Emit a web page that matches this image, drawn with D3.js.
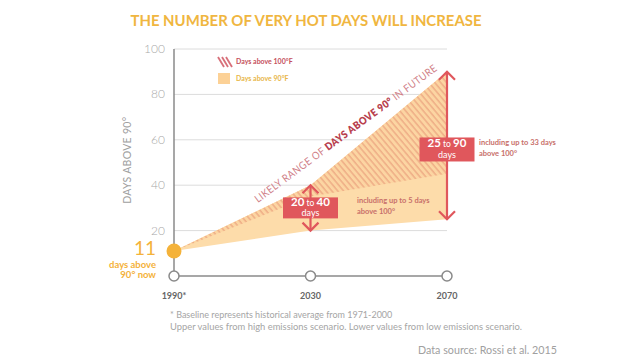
<!DOCTYPE html>
<html><head><meta charset="utf-8">
<script src="https://cdn.jsdelivr.net/npm/d3@7"></script>
<style>body{margin:0;background:#fff}svg{display:block}text{font-family:Lato,"Open Sans",sans-serif}</style>
</head><body><svg id="c" width="640" height="360"></svg>
<script>
const years = [1990, 2030, 2070];
const xLabels = ["1990*", "2030", "2070"];
const upper = [11, 40, 90];
const lower = [11, 20, 25];
const hatchLower = [11, 35, 45];
const yTicks = [20, 40, 60, 80, 100];
const rangeLabels = [null, ["20", "40"], ["25", "90"]];
const notes = [null, ["including up to 5 days", "above 100°"], ["including up to 33 days", "above 100°"]];

const svg = d3.select("#c");
const x = d3.scaleLinear().domain([1990, 2070]).range([174, 447]);
const y = d3.scaleLinear().domain([0, 100]).range([276, 49]);
const red = "#e0575c", orange = "#f4b23a";

const defs = svg.append("defs");
const pat = defs.append("pattern").attr("id", "hatch").attr("patternUnits", "userSpaceOnUse")
  .attr("width", 4.5).attr("height", 4.5).attr("patternTransform", "rotate(-40)");
pat.append("rect").attr("width", 4.5).attr("height", 4.5).attr("fill", "#fcd5a2");
pat.append("line").attr("x1", 1).attr("x2", 1).attr("y1", 0).attr("y2", 4.5)
  .attr("stroke", "#eeaa84").attr("stroke-width", 1.4);

// title
svg.append("text").attr("x", 306).attr("y", 26).attr("text-anchor", "middle")
  .attr("font-size", 16).attr("font-weight", 700).attr("fill", "#f0b640")
  .attr("textLength", 351).attr("lengthAdjust", "spacingAndGlyphs")
  .text("THE NUMBER OF VERY HOT DAYS WILL INCREASE");

// gridlines
svg.append("g").selectAll("line").data(yTicks).join("line")
  .attr("x1", x(1990)).attr("x2", x(2070)).attr("y1", d => y(d)).attr("y2", d => y(d))
  .attr("stroke", "#dcdcdc").attr("stroke-width", 1);

// y tick labels
svg.append("g").selectAll("text").data(yTicks).join("text")
  .attr("x", 165).attr("y", d => y(d) + 4).attr("text-anchor", "end")
  .attr("font-size", 12).attr("fill", "#a8a8a8").attr("font-weight", 300).text(d => d);

svg.append("text").attr("transform", `translate(131,${y(51)}) rotate(-90)`).attr("text-anchor", "middle")
  .attr("font-size", 10.5).attr("fill", "#a0a0a0").attr("letter-spacing", 0.3).text("DAYS ABOVE 90°");

// areas
const pts = years.map((yr, i) => ({yr, u: upper[i], l: lower[i], h: hatchLower[i]}));
svg.append("path").datum(pts)
  .attr("d", d3.area().x(d => x(d.yr)).y0(d => y(d.l)).y1(d => y(d.u)))
  .attr("fill", "#fddcaa");
svg.append("path").datum(pts)
  .attr("d", d3.area().x(d => x(d.yr)).y0(d => y(d.h)).y1(d => y(d.u)))
  .attr("fill", "url(#hatch)");

// axes lines
svg.append("line").attr("x1", x(1990)).attr("x2", x(1990)).attr("y1", y(100)).attr("y2", y(0))
  .attr("stroke", "#8a8a8a").attr("stroke-width", 1.5);
svg.append("line").attr("x1", x(1990)).attr("x2", x(2070)).attr("y1", y(0)).attr("y2", y(0))
  .attr("stroke", "#8a8a8a").attr("stroke-width", 1.5);
svg.append("g").selectAll("circle").data(years).join("circle")
  .attr("cx", d => x(d)).attr("cy", y(0)).attr("r", 5)
  .attr("fill", "#fff").attr("stroke", "#8a8a8a").attr("stroke-width", 1.5);
svg.append("g").selectAll("text").data(years).join("text")
  .attr("x", d => x(d)).attr("y", 299).attr("text-anchor", "middle")
  .attr("font-size", 9).attr("font-weight", 700).attr("fill", "#666")
  .text((d, i) => xLabels[i]);

// start dot
svg.append("circle").attr("cx", x(1990)).attr("cy", y(upper[0])).attr("r", 7.5).attr("fill", orange);
svg.append("text").attr("x", 156).attr("y", 255).attr("text-anchor", "end")
  .attr("font-size", 19).attr("font-weight", 400).attr("fill", orange).text(upper[0]);
svg.append("text").attr("x", 156).attr("y", 268).attr("text-anchor", "end")
  .attr("font-size", 9.5).attr("font-weight", 700).attr("fill", orange).text("days above");
svg.append("text").attr("x", 156).attr("y", 278).attr("text-anchor", "end")
  .attr("font-size", 9.5).attr("font-weight", 700).attr("fill", orange).text("90° now");

// legend
const lg = svg.append("g");
[0, 4, 8].forEach(o => lg.append("line").attr("x1", 218 + o).attr("y1", 57).attr("x2", 224 + o).attr("y2", 67)
  .attr("stroke", "#d8707a").attr("stroke-width", 1.8));
lg.append("text").attr("x", 236).attr("y", 64).attr("font-size", 7).attr("font-weight", 700)
  .attr("fill", "#c5505c").text("Days above 100°F");
lg.append("rect").attr("x", 218).attr("y", 73).attr("width", 12).attr("height", 11).attr("fill", "#fcd196");
lg.append("text").attr("x", 236).attr("y", 81).attr("font-size", 7).attr("font-weight", 700)
  .attr("fill", "#e8b648").text("Days above 90°F");

// rotated label along upper line
const tx = x(2041), ty = y(61.5);
svg.append("text").attr("transform", `translate(${tx},${ty}) rotate(-36.5)`).attr("text-anchor", "middle")
  .attr("font-size", 10.5).attr("fill", "#d08088").attr("letter-spacing", 0.5)
  .attr("textLength", 224).attr("lengthAdjust", "spacingAndGlyphs")
  .call(t => {
    t.append("tspan").text("LIKELY RANGE OF ");
    t.append("tspan").attr("font-weight", 800).attr("fill", "#b8404e").text("DAYS ABOVE 90°");
    t.append("tspan").text(" IN FUTURE");
  });

// arrows
[1, 2].forEach(i => {
  const ax = x(years[i]), yt = y(upper[i]), yb = y(lower[i]);
  const g = svg.append("g").attr("stroke", red).attr("stroke-width", 2.2).attr("fill", "none");
  g.append("line").attr("x1", ax).attr("x2", ax).attr("y1", yt).attr("y2", yb);
  g.append("path").attr("d", `M${ax - 8},${yt + 8}L${ax},${yt}L${ax + 8},${yt + 8}`);
  g.append("path").attr("d", `M${ax - 8},${yb - 8}L${ax},${yb}L${ax + 8},${yb - 8}`);
  const mid = (upper[i] + lower[i]) / 2;
  const h = i === 1 ? 21 : 24, w = 55;
  const cy = i === 1 ? y(mid) : y(mid) + 4;
  svg.append("rect").attr("x", ax - w / 2).attr("y", cy - h / 2).attr("width", w).attr("height", h).attr("fill", red);
  const t = svg.append("text").attr("x", ax).attr("y", cy - 2).attr("text-anchor", "middle").attr("fill", "#fff");
  t.append("tspan").attr("font-size", 11.5).attr("font-weight", 700).text(rangeLabels[i][0]);
  t.append("tspan").attr("font-size", 8.5).text(" to ");
  t.append("tspan").attr("font-size", 11.5).attr("font-weight", 700).text(rangeLabels[i][1]);
  svg.append("text").attr("x", ax).attr("y", cy + 8.5).attr("text-anchor", "middle").attr("fill", "#fff")
    .attr("font-size", 9).text("days");
});

// notes
const notePos = [null, [357, 203], [479, 145]];
[1, 2].forEach(i => {
  notes[i].forEach((s, k) => svg.append("text").attr("x", notePos[i][0]).attr("y", notePos[i][1] + k * 10.5)
    .attr("font-size", 7.5).attr("font-weight", 700).attr("fill", "#c8706a").text(s));
});

// footnotes
svg.append("text").attr("x", 170).attr("y", 318).attr("font-size", 9).attr("fill", "#a5a5a5")
  .text("* Baseline represents historical average from 1971-2000");
svg.append("text").attr("x", 170).attr("y", 330).attr("font-size", 9).attr("fill", "#a5a5a5")
  .attr("textLength", 352).attr("lengthAdjust", "spacingAndGlyphs")
  .text("Upper values from high emissions scenario. Lower values from low emissions scenario.");
svg.append("text").attr("x", 418).attr("y", 354).attr("font-size", 11).attr("fill", "#a0a0a0")
  .attr("textLength", 139).attr("lengthAdjust", "spacingAndGlyphs")
  .text("Data source: Rossi et al. 2015");
</script></body></html>
